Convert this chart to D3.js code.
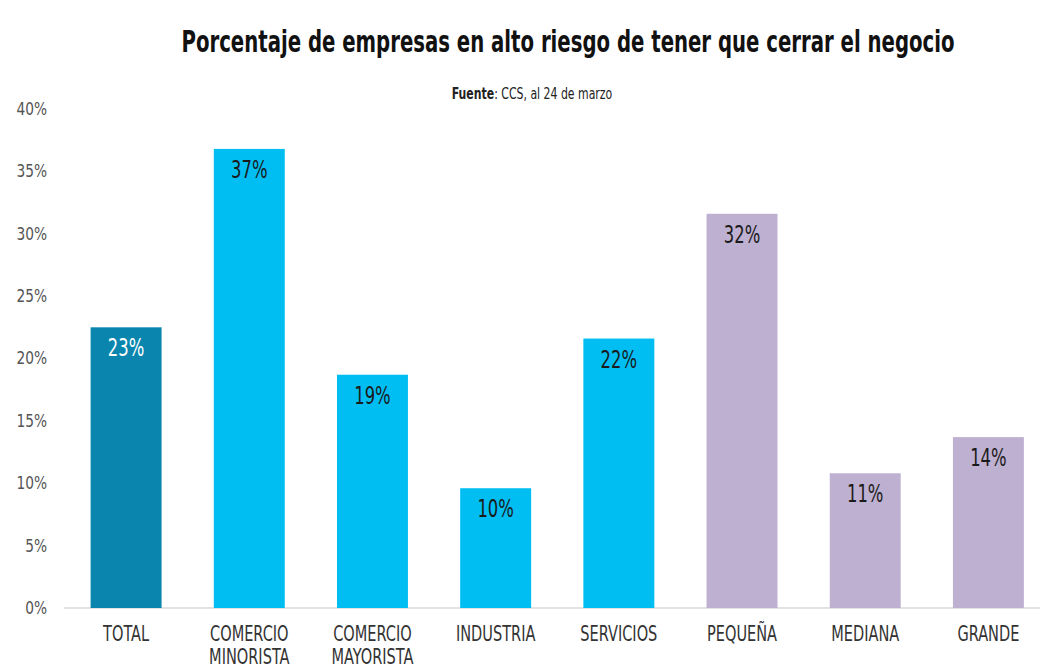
<!DOCTYPE html>
<html>
<head>
<meta charset="utf-8">
<script src="https://cdn.jsdelivr.net/npm/d3@7"></script>
<style>
  html, body { margin: 0; padding: 0; background: #ffffff; }
  svg { display: block; }
  text { font-family: "DejaVu Sans Condensed", "Liberation Sans Narrow", "Roboto", sans-serif; }
</style>
</head>
<body>
<svg id="chart" width="1042" height="670"></svg>
<script>
const categories = [["TOTAL"], ["COMERCIO", "MINORISTA"], ["COMERCIO", "MAYORISTA"], ["INDUSTRIA"], ["SERVICIOS"], ["PEQUEÑA"], ["MEDIANA"], ["GRANDE"]];
const values = [22.5, 36.8, 18.7, 9.6, 21.6, 31.6, 10.8, 13.7];
const valueLabels = ["23%", "37%", "19%", "10%", "22%", "32%", "11%", "14%"];
const groups = ["total", "sector", "sector", "sector", "sector", "size", "size", "size"];
const yTicks = [0, 5, 10, 15, 20, 25, 30, 35, 40];
const title = "Porcentaje de empresas en alto riesgo de tener que cerrar el negocio";
const sourceBold = "Fuente";
const sourceRest = ": CCS, al 24 de marzo";

const colors = { total: "#0a86ae", sector: "#00bef2", size: "#beb0d0" };
const labelColors = { total: "#ffffff", sector: "#1a1a1a", size: "#1a1a1a" };

const svg = d3.select("#chart");
const idx = d3.range(categories.length);

const x = d3.scaleBand().domain(idx).range([64.5, 1050]).paddingInner(0.424).paddingOuter(0.212);
const y = d3.scaleLinear().domain([0, 40]).range([608, 109]);

// title
svg.append("text").attr("transform", "translate(568,52) scale(0.73,1)").attr("text-anchor", "middle")
  .attr("font-size", 30).attr("font-weight", "bold").attr("fill", "#111")
  .text(title);
const src = svg.append("text").attr("transform", "translate(532,99) scale(0.81,1)").attr("text-anchor", "middle")
  .attr("font-size", 15).attr("fill", "#222");
src.append("tspan").attr("font-weight", "bold").text(sourceBold);
src.append("tspan").text(sourceRest);

// y axis labels
const yAxis = d3.axisLeft(y).tickValues(yTicks).tickFormat(d => d + "%").tickSize(0).tickPadding(0);
const yg = svg.append("g").attr("transform", "translate(47,0)").call(yAxis);
yg.select(".domain").remove();
yg.selectAll("text").attr("font-size", 17).attr("fill", "#555")
  .attr("font-family", '"DejaVu Sans Condensed", "Liberation Sans Narrow", sans-serif')
  .attr("transform", "scale(0.9,1)");

// baseline
svg.append("line").attr("x1", 64).attr("x2", 1040).attr("y1", y(0)).attr("y2", y(0))
  .attr("stroke", "#d9d9d9").attr("stroke-width", 1.5);

// bars
svg.append("g").selectAll("rect").data(idx).join("rect")
  .attr("x", i => x(i)).attr("width", x.bandwidth())
  .attr("y", i => y(values[i])).attr("height", i => y(0) - y(values[i]))
  .attr("fill", i => colors[groups[i]]);

// value labels
svg.append("g").selectAll("text").data(idx).join("text")
  .attr("transform", i => `translate(${x(i) + x.bandwidth() / 2},${y(values[i]) + 29}) scale(0.76,1)`)
  .attr("text-anchor", "middle").attr("font-size", 24)
  .attr("fill", i => labelColors[groups[i]])
  .text(i => valueLabels[i]);

// x axis labels
const xAxis = d3.axisBottom(x).tickSize(0).tickFormat("");
const xg = svg.append("g").attr("transform", `translate(0,${y(0)})`).call(xAxis);
xg.select(".domain").remove();
xg.selectAll(".tick").each(function(i) {
  const t = d3.select(this).append("text").attr("text-anchor", "middle")
    .attr("font-size", 21).attr("fill", "#333").attr("transform", "scale(0.77,1)");
  categories[i].forEach((line, k) => {
    t.append("tspan").attr("x", 0).attr("y", 33 + k * 23).text(line);
  });
});
</script>
</body>
</html>
